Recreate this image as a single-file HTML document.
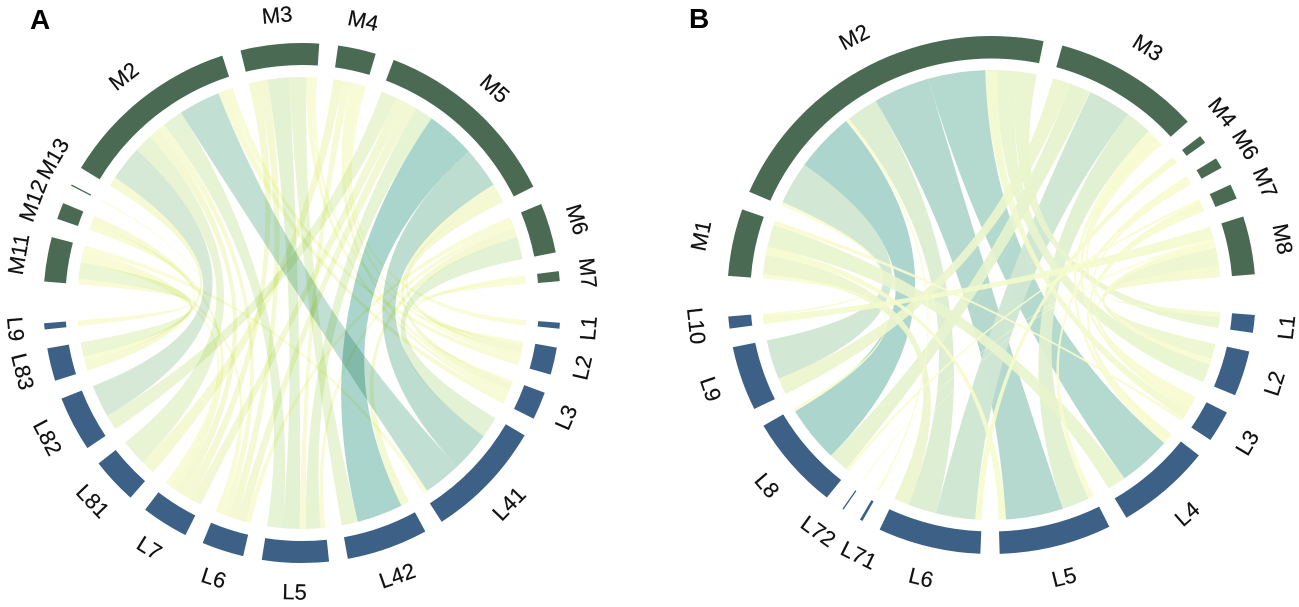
<!DOCTYPE html>
<html lang="en">
<head>
<meta charset="utf-8">
<title>Chord diagrams A and B</title>
<style>
  html, body { margin: 0; padding: 0; background: #fff; }
  #stage { display: block; width: 1299px; height: 607px; font-family: "Liberation Sans", sans-serif; filter: blur(0.35px); }
  .ribbon-multiply { mix-blend-mode: multiply; }
  .sector-label { font-size: 22px; fill: #111; stroke: #111; stroke-width: 0.2px; text-anchor: middle; dominant-baseline: central; }
  .panel-tag { font-size: 28px; font-weight: bold; fill: #000; }
</style>
</head>
<body>
<svg id="stage" viewBox="0 0 1299 607" xmlns="http://www.w3.org/2000/svg">
  <rect width="1299" height="607" fill="#fff"></rect>
  <g id="panel-a" style="isolation:isolate">
    <text class="panel-tag" x="30" y="29">A</text>
  </g>
  <g id="panel-b">
    <text class="panel-tag" x="689" y="28">B</text>
  </g>
</svg>
<script>
/* ---------- Panel A data ---------- */
const aSectors = ['M2','M3','M4','M5','M6','M7','L1','L2','L3','L41','L42','L5','L6','L7','L81','L82','L83','L9','M11','M12','M13'];
const aSizes   = [40.6,17.5,8.5,42.5,11.1,2.2,1.3,6.1,6.2,26.6,18.2,14.9,9.4,10.5,10.3,12.3,7.3,1.4,9.9,3.7,0.3];
const aLinkFrom = [
  'M2','M2','M2','M2','M2','M2','M2','M2','M2',
  'M3','M3','M3','M3','M3','M3',
  'M4','M4','M4','M4','M4',
  'M5','M5','M5','M5','M5','M5','M5','M5',
  'M6','M6','M6','M6',
  'M7','M7',
  'M11','M11','M11','M11','M11',
  'M12','M12',
  'M13'
];
const aLinkTo = [
  'L83','L82','L81','L7','L6','L5','L41','L3','L2',
  'L7','L6','L5','L42','L3','L2',
  'L81','L5','L3','L2','L1',
  'L82','L7','L6','L5','L42','L41','L3','L2',
  'L6','L5','L42','L41',
  'L3','L2',
  'L9','L83','L7','L6','L41',
  'L83','L7',
  'L6'
];
const aLinkValues = [
  2.3,8.5,4.5,2.5,2,5,10.2,2,1.7,
  2.5,2.5,5.5,4.5,1.5,1.2,
  2.5,2,1.7,1.3,1,
  4.1,2.8,2.8,4.7,12.5,10.6,2.5,2.5,
  1.5,1.5,2.4,5.7,
  1,1.2,
  1.4,4,1.5,1.5,1.2,
  1.7,2,
  0.3
];

/* ---------- Panel B data ---------- */
const bSectors = ['M2','M3','M4','M6','M7','M8','L1','L2','L3','L4','L5','L6','L71','L72','L8','L9','L10','M1'];
const bSizes   = [78.1,32.5,1.8,2.4,3.4,13.1,4,10.2,7.1,21.1,24.8,22.7,0.6,0.3,21.2,14.5,2.7,15.1];
const bLinkFrom = [
  'M2','M2','M2','M2','M2','M2','M2','M2','M2','M2',
  'M3','M3','M3','M3','M3','M3','M3','M3',
  'M4',
  'M6','M6',
  'M7','M7','M7',
  'M8','M8','M8','M8','M8','M8',
  'M1','M1','M1','M1','M1'
];
const bLinkTo = [
  'L10','L9','L8','L71','L6','L5','L4','L3','L2','L1',
  'L9','L8','L6','L5','L4','L3','L2','L72',
  'L6',
  'L5','L3',
  'L8','L4','L3',
  'L10','L71','L72','L3','L2','L1',
  'L8','L6','L5','L4','L3'
];
const bLinkValues = [
  0.9,10.8,15.2,0.9,8,14.2,14.3,3,5,4.8,
  4.5,5.4,11,6.8,1.5,1.7,1.5,0.1,
  1.8,
  1.4,1,
  0.8,1.6,1,
  2.7,0.3,0.3,1.5,4,2.5,
  0.9,4.3,1.8,5,1
];

/* ---------- Rendering ---------- */
const SVG_NS = 'http://www.w3.org/2000/svg';
const SMALL_GAP = 4.2;
const TONE_STOPS = [0, 0.2, 0.4, 0.68, 0.85, 1];
const TONE_COLORS = [[251,253,207],[242,248,204],[226,241,206],[210,232,211],[187,220,208],[170,213,204]];
const M_COLOR = '#4a6a54';
const L_COLOR = '#3d6087';

function toneFor(value, maxValue) {
  const t = Math.min(1, value / maxValue);
  for (let i = 1; i < TONE_STOPS.length; i++) {
    if (t <= TONE_STOPS[i]) {
      const f = (t - TONE_STOPS[i - 1]) / (TONE_STOPS[i] - TONE_STOPS[i - 1]);
      const c = TONE_COLORS[i - 1].map((v, k) => Math.round(v + (TONE_COLORS[i][k] - v) * f));
      return 'rgb(' + c.join(',') + ')';
    }
  }
  return 'rgb(170,213,204)';
}

function drawPanel(cfg) {
  const root = document.getElementById(cfg.rootId);
  const rad = d => d * Math.PI / 180;
  const px = (a, r) => [cfg.cx + r * cfg.sx * Math.sin(rad(a)), cfg.cy - r * Math.cos(rad(a))];
  const fmt = p => p[0].toFixed(2) + ' ' + p[1].toFixed(2);
  const rx = r => (r * cfg.sx).toFixed(2) + ' ' + r.toFixed(2);

  const n = cfg.sectors.length;
  let gapTotal = 0;
  const gaps = cfg.sectors.map((s, i) => {
    const next = cfg.sectors[(i + 1) % n];
    const g = s[0] !== next[0] ? cfg.groupGap : SMALL_GAP;
    gapTotal += g;
    return g;
  });
  const sizeTotal = cfg.sizes.reduce((p, v) => p + v, 0);
  const k = (360 - gapTotal) / sizeTotal;

  const geo = {};
  let cursor = cfg.startAngle;
  cfg.sectors.forEach((s, i) => {
    const span = cfg.sizes[i] * k;
    geo[s] = { start: cursor, end: cursor + span, mid: cursor + span / 2, span: span, links: [] };
    cursor += span + gaps[i];
  });

  const links = cfg.linkFrom.map((from, i) => ({ from: from, to: cfg.linkTo[i], value: cfg.linkValues[i] }));
  links.forEach(l => {
    geo[l.from].links.push({ link: l, end: 'a', partner: l.to });
    geo[l.to].links.push({ link: l, end: 'b', partner: l.from });
  });
  Object.keys(geo).forEach(name => {
    const g = geo[name];
    const total = g.links.reduce((p, e) => p + e.link.value, 0);
    g.links.sort((x, y) => {
      const dx = ((g.mid - geo[x.partner].mid) % 360 + 720) % 360;
      const dy = ((g.mid - geo[y.partner].mid) % 360 + 720) % 360;
      return dx - dy;
    });
    let c = g.start;
    g.links.forEach(e => {
      const w = total ? e.link.value / total * g.span : 0;
      e.link[e.end + '1'] = c;
      e.link[e.end + '2'] = c + w;
      c += w;
    });
  });

  const centre = cfg.cx.toFixed(2) + ' ' + cfg.cy.toFixed(2);
  const r = cfg.ribbonR;
  const drawOrder = links.slice().sort((p, q) => q.value - p.value);
  drawOrder.forEach(l => {
    const el = document.createElementNS(SVG_NS, 'path');
    el.setAttribute('d',
      'M' + fmt(px(l.a1, r)) + ' A' + rx(r) + ' 0 0 1 ' + fmt(px(l.a2, r)) +
      ' Q' + centre + ' ' + fmt(px(l.b1, r)) +
      ' A' + rx(r) + ' 0 0 1 ' + fmt(px(l.b2, r)) +
      ' Q' + centre + ' ' + fmt(px(l.a1, r)) + ' Z');
    el.setAttribute('fill', toneFor(l.value, cfg.maxValue));
    const strength = Math.min(1, l.value / cfg.maxValue);
    el.setAttribute('fill-opacity', (cfg.minOpacity + (1 - cfg.minOpacity) * strength).toFixed(3));
    if (cfg.multiply) el.setAttribute('class', 'ribbon-multiply');
    
    
    root.appendChild(el);
  });

  cfg.sectors.forEach(s => {
    const g = geo[s];
    const el = document.createElementNS(SVG_NS, 'path');
    el.setAttribute('d',
      'M' + fmt(px(g.start, cfg.outerR)) + ' A' + rx(cfg.outerR) + ' 0 0 1 ' + fmt(px(g.end, cfg.outerR)) +
      ' L' + fmt(px(g.end, cfg.innerR)) + ' A' + rx(cfg.innerR) + ' 0 0 0 ' + fmt(px(g.start, cfg.innerR)) + ' Z');
    el.setAttribute('fill', s[0] === 'M' ? M_COLOR : L_COLOR);
    
    
    root.appendChild(el);

    const nudge = cfg.labelNudge[s] || 0;
    const a = ((g.mid + nudge) % 360 + 360) % 360;
    const p = px(a, cfg.labelR);
    const rot = (a > 90 && a < 270) ? a - 180 : a;
    const t = document.createElementNS(SVG_NS, 'text');
    t.setAttribute('class', 'sector-label');
    t.setAttribute('x', p[0].toFixed(2));
    t.setAttribute('y', p[1].toFixed(2));
    t.setAttribute('transform', 'rotate(' + rot.toFixed(2) + ' ' + p[0].toFixed(2) + ' ' + p[1].toFixed(2) + ')');
    t.textContent = s;
    
    
    root.appendChild(t);
  });
}

drawPanel({
  rootId: 'panel-a', cx: 302, cy: 303, sx: 0.995, startAngle: -58.7, groupGap: 9.2,
  outerR: 260, innerR: 238, ribbonR: 226, labelR: 289, maxValue: 12.5,
  multiply: true, minOpacity: 0.8,
  labelNudge: { M13: 3 },
  sectors: aSectors, sizes: aSizes, linkFrom: aLinkFrom, linkTo: aLinkTo, linkValues: aLinkValues
});
drawPanel({
  rootId: 'panel-b', cx: 991.5, cy: 295, sx: 1.02, startAngle: -66.5, groupGap: 9.0,
  outerR: 259, innerR: 236.5, ribbonR: 225, labelR: 291, maxValue: 15.5,
  multiply: false, minOpacity: 0.88,
  labelNudge: { M4: -2, M6: -0.5, M7: 0.8, L71: -3, L72: 1.5 },
  sectors: bSectors, sizes: bSizes, linkFrom: bLinkFrom, linkTo: bLinkTo, linkValues: bLinkValues
});
</script>
</body>
</html>
